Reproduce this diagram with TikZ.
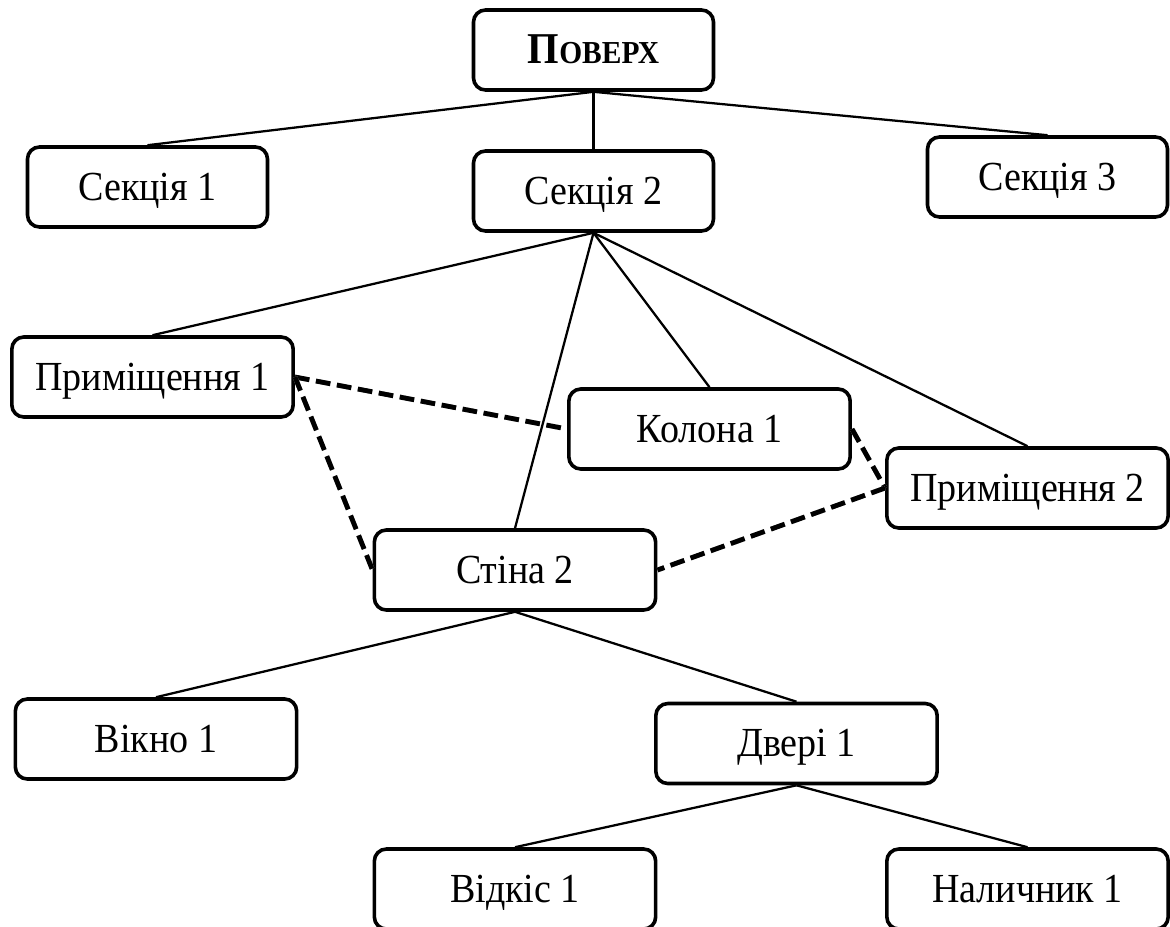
\documentclass[tikz,border=0pt]{standalone}
\usepackage{fontspec}
\setmainfont{Liberation Serif}[FakeStretch=0.92]
\begin{document}
\begin{tikzpicture}[x=0.75pt,y=-0.75pt,
  box/.style={draw, line width=2.7pt, rounded corners=9pt, inner sep=0pt,
    font=\fontsize{31}{37}\selectfont, minimum height=60pt,
    text height=21pt, text depth=1pt},
  narrow/.style={minimum width=180pt},
  wide/.style={minimum width=211pt},
  link/.style={line width=1.7pt},
  assoc/.style={line width=3.6pt, dash pattern=on 11pt off 5pt},
  assocshade/.style={line width=3.6pt, dash pattern=on 11pt off 5pt,
    black!35, yshift=-1.6pt}]
\useasboundingbox (0,0) rectangle (1170,926);
\clip (0,0) rectangle (1170,926);

% hierarchy boxes
\node[box,narrow] (floor) at (593.5,50) {\textbf{\fontsize{33}{38}\selectfont П\fontsize{24}{28}\selectfont ОВЕРХ}};
\node[box,narrow] (sec1) at (147.5,187) {Секція 1};
\node[box,narrow] (sec2) at (593.5,191) {Секція 2};
\node[box,narrow] (sec3) at (1047.5,177) {Секція 3};
\node[box,wide] (room1) at (152.5,377) {Приміщення 1};
\node[box,wide] (col1) at (709.5,429) {Колона 1};
\node[box,wide] (room2) at (1027.5,488) {Приміщення 2};
\node[box,wide] (wall2) at (515,570) {Стіна 2};
\node[box,wide] (win1) at (156,739) {Вікно 1};
\node[box,wide] (door1) at (796.5,743.5) {Двері 1};
\node[box,wide] (slope1) at (515,889) {Відкіс 1};
\node[box,wide] (trim1) at (1027.5,889) {Наличник 1};

% tree links
\draw[link] (floor.south) -- (sec1.north);
\draw[link] (floor.south) -- (sec2.north);
\draw[link] (floor.south) -- (sec3.north);
\draw[link] (sec2.south) -- (room1.north);
\draw[link] (sec2.south) -- (col1.north);
\draw[link] (sec2.south) -- (wall2.north);
\draw[link] (sec2.south) -- (room2.north);
\draw[link] (wall2.south) -- (win1.north);
\draw[link] (wall2.south) -- (door1.north);
\draw[link] (door1.south) -- (slope1.north);
\draw[link] (door1.south) -- (trim1.north);

% adjacency links: grey underlay, then the black dashes
\foreach \a/\b in {room1.east/col1.west, room1.east/wall2.west,
                   col1.east/room2.west, room2.west/wall2.east}{
  \draw[assocshade] (\a) -- (\b);
  \draw[assoc] (\a) -- (\b);
}
\end{tikzpicture}
\end{document}
